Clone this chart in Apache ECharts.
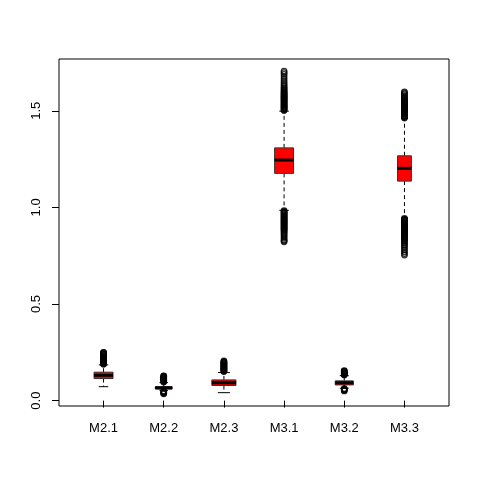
<!DOCTYPE html>
<html>
<head>
<meta charset="utf-8">
<script src="https://cdn.jsdelivr.net/npm/echarts@6/dist/echarts.min.js"></script>
<style>
  html, body { margin: 0; padding: 0; background: #fff; }
  #chart { width: 480px; height: 480px; }
</style>
</head>
<body>
<div id="chart"></div>
<script>
const categories = ["M2.1", "M2.2", "M2.3", "M3.1", "M3.2", "M3.3"];
const lowerWhisker = [0.072, 0.052, 0.041, 0.985, 0.064, 0.945];
const q1 = [0.114, 0.060, 0.078, 1.176, 0.081, 1.136];
const median = [0.131, 0.066, 0.092, 1.245, 0.092, 1.202];
const q3 = [0.147, 0.072, 0.107, 1.308, 0.102, 1.267];
const upperWhisker = [0.185, 0.093, 0.145, 1.498, 0.129, 1.460];
const outliers = [
  [0.188, 0.191, 0.194, 0.197, 0.200, 0.203, 0.206, 0.209, 0.212, 0.215, 0.218, 0.221, 0.224, 0.227,
   0.230, 0.233, 0.236, 0.239, 0.242, 0.245, 0.248, 0.250],
  [0.096, 0.099, 0.102, 0.105, 0.108, 0.111, 0.114, 0.117, 0.120, 0.123, 0.126, 0.128,
   0.050, 0.047, 0.044, 0.041, 0.038, 0.035],
  [0.150, 0.153, 0.156, 0.159, 0.162, 0.165, 0.168, 0.171, 0.174, 0.177, 0.180, 0.183, 0.186, 0.189,
   0.192, 0.195, 0.198, 0.201, 0.205],
  [1.501, 1.505, 1.509, 1.513, 1.517, 1.521, 1.525, 1.529, 1.533, 1.537, 1.541, 1.545, 1.549, 1.553,
   1.557, 1.561, 1.565, 1.569, 1.573, 1.577, 1.581, 1.585, 1.589, 1.593, 1.597, 1.602, 1.607, 1.613,
   1.619, 1.626, 1.634, 1.643, 1.653, 1.664, 1.676, 1.688, 1.697, 1.705,
   0.983, 0.979, 0.975, 0.971, 0.967, 0.963, 0.959, 0.955, 0.951, 0.947, 0.943, 0.939, 0.935, 0.931,
   0.927, 0.923, 0.919, 0.915, 0.911, 0.907, 0.903, 0.899, 0.895, 0.891, 0.887, 0.882, 0.877, 0.871,
   0.864, 0.857, 0.849, 0.841, 0.833, 0.827, 0.822],
  [0.132, 0.135, 0.138, 0.141, 0.144, 0.147, 0.150, 0.153, 0.155, 0.062, 0.059, 0.056, 0.053, 0.050],
  [1.462, 1.466, 1.470, 1.474, 1.478, 1.482, 1.486, 1.490, 1.494, 1.498, 1.502, 1.506, 1.510, 1.514,
   1.518, 1.522, 1.526, 1.530, 1.534, 1.538, 1.542, 1.546, 1.550, 1.554, 1.558, 1.563, 1.568, 1.574,
   1.580, 1.587, 1.593, 1.598,
   0.943, 0.939, 0.935, 0.931, 0.927, 0.923, 0.919, 0.915, 0.911, 0.907, 0.903, 0.899, 0.895, 0.891,
   0.887, 0.883, 0.879, 0.875, 0.871, 0.867, 0.863, 0.859, 0.855, 0.851, 0.847, 0.843, 0.838, 0.833,
   0.827, 0.821, 0.814, 0.807, 0.799, 0.790, 0.780, 0.770, 0.761, 0.753]
];
const yTicks = [0, 0.5, 1.0, 1.5];

// box width per group, as a share of one category step
const boxWidths = [0.315, 0.28, 0.40, 0.315, 0.30, 0.23];

const boxData = categories.map((c, i) => [i + 1, lowerWhisker[i], q1[i], median[i], q3[i], upperWhisker[i]]);
const outlierData = [];
outliers.forEach((list, i) => {
  list.forEach((v) => outlierData.push([i + 1, v]));
});

function renderBox(params, api) {
  const x = api.value(0);
  const unit = api.size([1, 0])[0];
  const w = boxWidths[params.dataIndex] * unit;
  const cx = api.coord([x, 0])[0];
  const yLw = api.coord([x, api.value(1)])[1];
  const yQ1 = api.coord([x, api.value(2)])[1];
  const yMed = api.coord([x, api.value(3)])[1];
  const yQ3 = api.coord([x, api.value(4)])[1];
  const yUw = api.coord([x, api.value(5)])[1];
  const dash = { stroke: "#000", lineWidth: 1, lineDash: [4, 3] };
  const solid = { stroke: "#000", lineWidth: 1 };
  return {
    type: "group",
    children: [
      { type: "line", shape: { x1: cx, y1: yQ3, x2: cx, y2: yUw }, style: dash },
      { type: "line", shape: { x1: cx, y1: yQ1, x2: cx, y2: yLw }, style: dash },
      { type: "line", shape: { x1: cx - w / 4, y1: yUw, x2: cx + w / 4, y2: yUw }, style: solid },
      { type: "line", shape: { x1: cx - w / 4, y1: yLw, x2: cx + w / 4, y2: yLw }, style: solid },
      {
        type: "rect",
        shape: { x: cx - w / 2, y: yQ3, width: w, height: yQ1 - yQ3 },
        style: { fill: "#ff0000", stroke: "#333", lineWidth: 1 }
      },
      { type: "line", shape: { x1: cx - w / 2, y1: yMed, x2: cx + w / 2, y2: yMed }, style: { stroke: "#000", lineWidth: 3 } }
    ]
  };
}

const chart = echarts.init(document.getElementById("chart"), null, { renderer: "canvas" });
chart.setOption({
  animation: false,
  backgroundColor: "#fff",
  textStyle: { fontFamily: "Liberation Sans, Arial, sans-serif" },
  grid: {
    left: 59,
    right: 31,
    top: 59,
    bottom: 74,
    show: true,
    borderColor: "#000",
    borderWidth: 1,
    backgroundColor: "transparent"
  },
  xAxis: {
    type: "value",
    min: 0.26,
    max: 6.74,
    splitLine: { show: false },
    axisLine: { show: false },
    axisTick: {
      show: true,
      inside: false,
      length: 7,
      customValues: [1, 2, 3, 4, 5, 6],
      lineStyle: { color: "#000" }
    },
    axisLabel: {
      customValues: [1, 2, 3, 4, 5, 6],
      margin: 16,
      fontSize: 13,
      color: "#000",
      formatter: (v) => categories[Math.round(v) - 1]
    }
  },
  yAxis: {
    type: "value",
    min: -0.028,
    max: 1.768,
    splitLine: { show: false },
    axisLine: { show: false },
    axisTick: {
      show: true,
      length: 7,
      customValues: yTicks,
      lineStyle: { color: "#000" }
    },
    axisLabel: {
      customValues: yTicks,
      rotate: 90,
      margin: 16,
      fontSize: 13,
      color: "#000",
      formatter: (v) => v.toFixed(1)
    }
  },
  series: [
    {
      type: "custom",
      renderItem: renderBox,
      data: boxData,
      z: 2
    },
    {
      type: "scatter",
      data: outlierData,
      symbol: "circle",
      symbolSize: 5.5,
      itemStyle: { color: "transparent", borderColor: "#000", borderWidth: 1.3 },
      z: 3
    }
  ]
});
</script>
</body>
</html>
